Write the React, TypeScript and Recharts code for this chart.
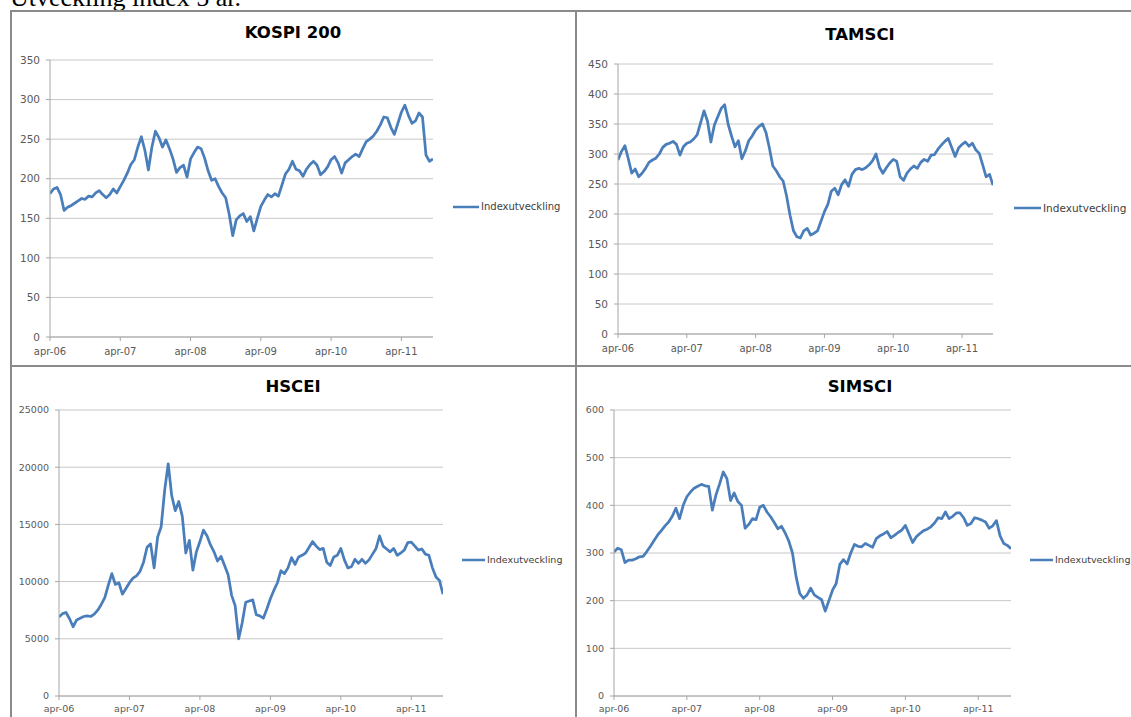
import React from "react";
import { LineChart, Line, XAxis, YAxis, CartesianGrid, Legend } from "recharts";

const STEP = 0.05;
const xTickLabels = ["apr-06", "apr-07", "apr-08", "apr-09", "apr-10", "apr-11"];
const xTicks = [0, 1, 2, 3, 4, 5];
const seriesName = "Indexutveckling";
const caption = "Utveckling index 5 år.";

const kospi = [
  181, 187, 189, 180, 160, 164, 166, 169, 172, 175,
  174, 178, 177, 182, 185, 180, 176, 180, 187, 182,
  190, 198, 207, 218, 224, 240, 253, 236, 211, 240,
  260, 252, 240, 249, 238, 225, 208, 214, 217, 202,
  225, 233, 240, 238, 226, 210, 198, 200, 190, 182,
  176, 155, 128, 148, 153, 156, 146, 152, 134, 150,
  165, 173, 180, 177, 181, 178, 192, 206, 212, 222,
  212, 210, 203, 212, 218, 222, 217, 205, 209, 215,
  224, 228, 220, 207, 220, 224, 228, 231, 228, 238,
  247, 250, 254, 260, 268, 278, 277, 265, 256, 270,
  284, 293, 280, 270, 273, 283, 278, 230, 222, 225,
];

const tamsci = [
  290, 304, 314, 292, 268, 275, 262, 268, 276, 286,
  290, 293, 300, 311, 316, 318, 321, 316, 298, 312,
  318, 320, 325, 332, 352, 372, 355, 320, 348, 362,
  376, 382, 350, 330, 312, 322, 292, 305, 322, 330,
  340, 346, 350, 336, 310, 280, 272, 262, 255, 230,
  198, 172, 162, 160, 172, 176, 165, 168, 172, 188,
  204, 216, 238, 243, 232, 249, 257, 246, 266, 274,
  276, 274, 277, 282, 289, 300, 278, 268, 277, 285,
  291, 288, 262, 256, 268, 275, 280, 276, 286, 291,
  288, 298, 299, 308, 315, 321, 326, 311, 296, 310,
  316, 320, 313, 318, 307, 301, 282, 262, 266, 248,
];

const hscei = [
  6900, 7200, 7300, 6750, 6050, 6650, 6800, 6950, 7000, 6950,
  7150, 7500, 8000, 8600, 9700, 10700, 9750, 9900, 8900, 9400,
  9900, 10300, 10500, 10900, 11700, 13000, 13300, 11200, 13900, 14800,
  18000, 20300, 17500, 16200, 17000, 15700, 12500, 13600, 11000, 12600,
  13500, 14500, 14000, 13200, 12600, 11800, 12200, 11400, 10600, 8800,
  7900, 5000, 6400, 8200, 8300, 8400, 7100, 7000, 6800, 7600,
  8500, 9250, 9900, 10950, 10700, 11200, 12100, 11500, 12150, 12300,
  12500, 13000, 13500, 13100, 12800, 12900, 11700, 11400, 12150, 12300,
  12900, 11900, 11200, 11300, 11950, 11600, 11950, 11600, 11900, 12400,
  12900, 14000, 13100, 12850, 12600, 12900, 12300, 12500, 12750, 13400,
  13450, 13100, 12750, 12850, 12400, 12300, 11200, 10400, 10100, 8900,
];

const simsci = [
  302, 310, 307, 280, 285, 285, 288, 292, 293, 303,
  314, 326, 338, 347, 357, 365, 377, 394, 372, 400,
  418, 428, 436, 440, 444, 441, 440, 390, 422, 445,
  470, 456, 410, 426, 408, 400, 352, 360, 372, 370,
  396, 400, 386, 376, 364, 351, 356, 342, 325, 300,
  250, 215, 205, 212, 226, 212, 207, 202, 178, 200,
  222, 236, 276, 286, 277, 300, 318, 314, 313, 320,
  316, 312, 330, 336, 340, 345, 332, 337, 343, 348,
  358, 340, 322, 334, 341, 347, 350, 355, 363, 374,
  372, 386, 372, 377, 384, 384, 374, 358, 362, 374,
  372, 369, 365, 352, 357, 368, 336, 320, 316, 309,
];

const kospiTicks = [0, 50, 100, 150, 200, 250, 300, 350];
const tamsciTicks = [0, 50, 100, 150, 200, 250, 300, 350, 400, 450];
const hsceiTicks = [0, 5000, 10000, 15000, 20000, 25000];
const simsciTicks = [0, 100, 200, 300, 400, 500, 600];

const BLUE = "#4A7EBB";
const FONT = "'DejaVu Sans', sans-serif";

const toRows = (vals: number[]) => vals.map((v, i) => ({ t: i * STEP, v }));

type PanelProps = {
  title: string;
  values: number[];
  yTicks: number[];
  box: { left: number; top: number; width: number; height: number };
  plot: { left: number; right: number; top: number; bottom: number };
  xAxisH: number;
  tickFont: number;
  xTickFont: number;
  tickMarginX: number;
  titleCenter: { x: number; y: number };
  legendPos: { x: number; y: number; lineW: number; font: number };
};

function Panel(p: PanelProps) {
  const { box, plot } = p;
  const yAxisW = plot.left - box.left;
  const margin = {
    top: plot.top - box.top,
    left: 0,
    right: box.left + box.width - plot.right,
    bottom: box.top + box.height - plot.bottom - p.xAxisH,
  };
  const legendContent = () => (
    <div
      style={{
        display: "flex",
        alignItems: "center",
        fontFamily: FONT,
        fontSize: p.legendPos.font,
        color: "#404040",
        whiteSpace: "nowrap",
        lineHeight: "14px",
      }}
    >
      <svg width={p.legendPos.lineW} height={6} style={{ display: "block" }}>
        <line x1={0} y1={3} x2={p.legendPos.lineW} y2={3} stroke={BLUE} strokeWidth={2.5} />
      </svg>
      <span style={{ marginLeft: 2 }}>{seriesName}</span>
    </div>
  );
  return (
    <>
      <div
        style={{
          position: "absolute",
          left: p.titleCenter.x - 150,
          width: 300,
          top: p.titleCenter.y - 10,
          height: 20,
          lineHeight: "20px",
          textAlign: "center",
          fontFamily: FONT,
          fontWeight: "bold",
          fontSize: 16.5,
          color: "#000",
        }}
      >
        {p.title}
      </div>
      <div style={{ position: "absolute", left: box.left, top: box.top }}>
        <LineChart width={box.width} height={box.height} data={toRows(p.values)} margin={margin}>
          <CartesianGrid horizontal vertical={false} stroke="#c8c8c8" strokeWidth={1} />
          <XAxis
            dataKey="t"
            type="number"
            domain={[0, (p.values.length - 1) * STEP]}
            ticks={xTicks}
            interval={0}
            height={p.xAxisH}
            tickFormatter={(v: number) => xTickLabels[Math.round(v)]}
            tick={{ fill: "#595959", fontSize: p.xTickFont, fontFamily: FONT }}
            tickSize={4}
            tickMargin={p.tickMarginX}
            stroke="#a6a6a6"
            allowDataOverflow
          />
          <YAxis
            type="number"
            domain={[p.yTicks[0], p.yTicks[p.yTicks.length - 1]]}
            ticks={p.yTicks}
            interval={0}
            width={yAxisW}
            tick={{ fill: "#595959", fontSize: p.tickFont, fontFamily: FONT }}
            tickSize={4}
            tickMargin={6}
            stroke="#a6a6a6"
          />
          <Legend
            layout="horizontal"
            align="center"
            verticalAlign="middle"
            content={legendContent}
            wrapperStyle={{
              left: p.legendPos.x - box.left,
              top: p.legendPos.y - box.top - 7,
              width: 140,
              height: 14,
            }}
          />
          <Line
            type="linear"
            dataKey="v"
            name={seriesName}
            stroke={BLUE}
            strokeWidth={2.75}
            strokeLinejoin="round"
            dot={false}
            activeDot={false}
            isAnimationActive={false}
          />
        </LineChart>
      </div>
    </>
  );
}

export default function App() {
  return (
    <div
      style={{
        position: "absolute",
        left: 0,
        top: 0,
        width: 1131,
        height: 717,
        overflow: "hidden",
        background: "#fff",
        fontFamily: FONT,
      }}
    >
      <div
        style={{
          position: "absolute",
          left: 10,
          top: -17,
          fontFamily: "'Liberation Serif', serif",
          fontSize: 26,
          lineHeight: "30px",
          color: "#000",
          whiteSpace: "nowrap",
        }}
      >
        {caption}
      </div>
      {/* frame */}
      <div style={{ position: "absolute", left: 10, top: 10, width: 1134, height: 720, border: "2px solid #8a8a8a", boxSizing: "border-box", background: "transparent" }} />
      <div style={{ position: "absolute", left: 575, top: 10, width: 2, height: 720, background: "#8a8a8a" }} />
      <div style={{ position: "absolute", left: 10, top: 365, width: 1134, height: 2, background: "#8a8a8a" }} />

      <Panel
        title="KOSPI 200"
        values={kospi}
        yTicks={kospiTicks}
        box={{ left: 12, top: 12, width: 563, height: 353 }}
        plot={{ left: 50, right: 433, top: 60, bottom: 337 }}
        xAxisH={24}
        tickFont={10.5}
        xTickFont={10}
        tickMarginX={7}
        titleCenter={{ x: 293, y: 33 }}
        legendPos={{ x: 453, y: 207, lineW: 26, font: 10 }}
      />
      <Panel
        title="TAMSCI"
        values={tamsci}
        yTicks={tamsciTicks}
        box={{ left: 577, top: 12, width: 567, height: 353 }}
        plot={{ left: 618, right: 993, top: 64, bottom: 334 }}
        xAxisH={24}
        tickFont={10.5}
        xTickFont={10}
        tickMarginX={7}
        titleCenter={{ x: 860, y: 35 }}
        legendPos={{ x: 1014, y: 208, lineW: 27, font: 10.5 }}
      />
      <Panel
        title="HSCEI"
        values={hscei}
        yTicks={hsceiTicks}
        box={{ left: 12, top: 367, width: 563, height: 350 }}
        plot={{ left: 59, right: 443, top: 410, bottom: 696 }}
        xAxisH={21}
        tickFont={9.5}
        xTickFont={9.5}
        tickMarginX={5}
        titleCenter={{ x: 293, y: 387 }}
        legendPos={{ x: 462, y: 560, lineW: 23, font: 9.5 }}
      />
      <Panel
        title="SIMSCI"
        values={simsci}
        yTicks={simsciTicks}
        box={{ left: 577, top: 367, width: 567, height: 350 }}
        plot={{ left: 614, right: 1011, top: 410, bottom: 696 }}
        xAxisH={21}
        tickFont={9.5}
        xTickFont={9.5}
        tickMarginX={5}
        titleCenter={{ x: 860, y: 387 }}
        legendPos={{ x: 1030, y: 560, lineW: 23, font: 9.5 }}
      />
    </div>
  );
}
